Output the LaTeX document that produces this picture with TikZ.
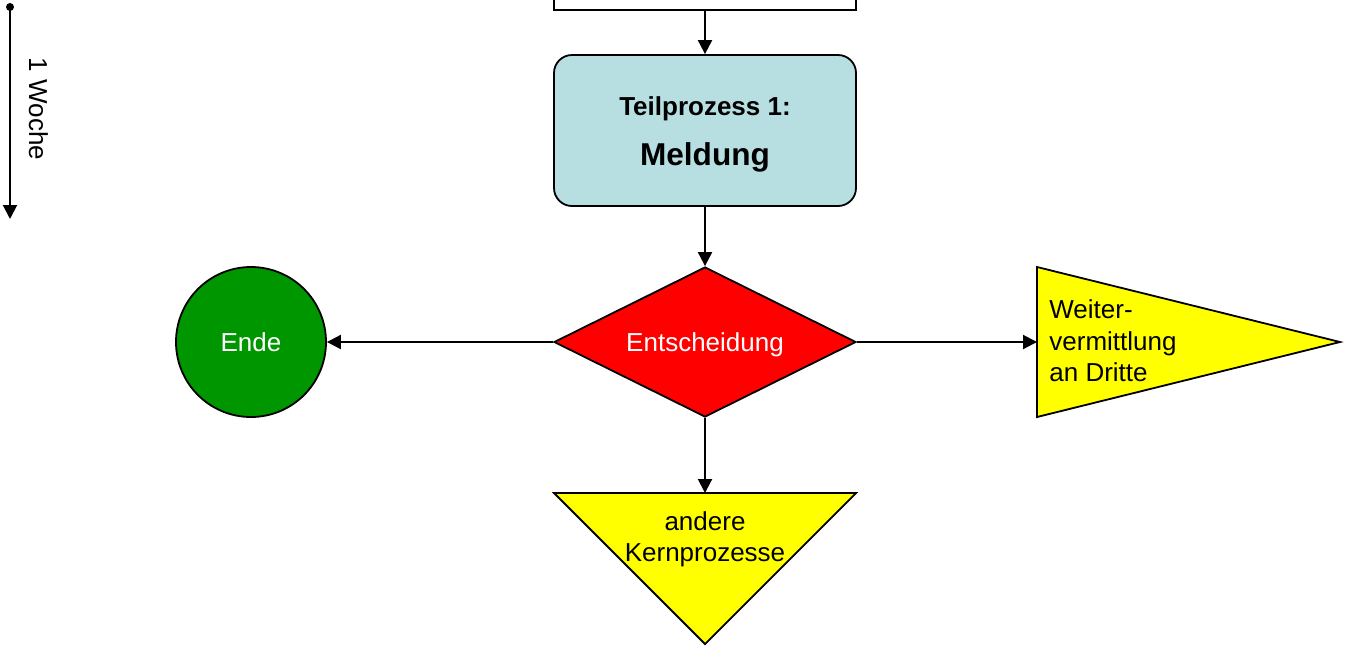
\documentclass[tikz,border=0pt]{standalone}
\usepackage{fontspec}
\setmainfont{Liberation Sans}
\usepackage{xcolor}
\usetikzlibrary{shapes.geometric,arrows.meta}
\definecolor{prozess}{HTML}{B7DFE2}
\definecolor{rot}{HTML}{FF0000}
\definecolor{gruen}{HTML}{009600}
\definecolor{gelb}{HTML}{FFFF00}
\tikzset{
  rand/.style={draw=black, line width=0.9pt},
  kasten/.style={rand, fill=white, minimum width=151pt, minimum height=75.5pt, inner sep=0pt},
  proz/.style={kasten, fill=prozess, rounded corners=9pt},
  entsch/.style={diamond, aspect=2, rand, fill=rot, text=white, minimum width=151pt, minimum height=75pt, inner sep=0pt, text depth=0pt},
  ende/.style={circle, rand, fill=gruen, text=white, minimum size=75pt, inner sep=0pt, text depth=0pt},
  ziel/.style={rand, fill=gelb, line join=miter},
  pfeil/.style={draw=black, line width=1pt, -{Triangle[length=7pt,width=7pt]}},
  txt/.style={font=\fontsize{13}{15.85}\selectfont}
}

\begin{document}
\begin{tikzpicture}[x=0.5pt, y=-0.5pt, every node/.style={txt}]
  \useasboundingbox (0,0) rectangle (1352,649);
  \clip (0,0) rectangle (1352,649);
  % Zeitachse
  \coordinate (zeitA) at (10,7);
  \coordinate (zeitB) at (10,219);
  \fill (zeitA) circle (2pt);
  \draw[pfeil] (zeitA) -- (zeitB);
  \node[rotate=-90, text depth=0pt] (woche) at (38.5,109) {1 Woche};
  % Knoten
  \node[kasten] (vorher) at (705,-65.5) {};
  \node[proz] (meldung) at (705,130.5) {};
  \node[anchor=base, font=\fontsize{13}{15.85}\selectfont\bfseries] (teil) at (705,115) {Teilprozess 1:};
  \node[anchor=base, font=\fontsize{15.8}{19}\selectfont\bfseries] (meldtxt) at (705,165) {Meldung};
  \node[entsch] (entsch) at (705,342) {Entscheidung};
  \node[ende] (ende) at (251,342) {Ende};
  % Dreiecke
  \coordinate (wv) at (1037,342);
  \coordinate (kp) at (705,493);
  \draw[ziel] (1037,267) -- (1340,342) -- (1037,417) -- cycle;
  \draw[ziel] (554,493) -- (856,493) -- (705,644) -- cycle;
  \node[anchor=base west, align=left, inner sep=0pt] (weiter) at (1049,381.7) {Weiter-\\vermittlung\\an Dritte};
  \node[anchor=base, align=center, inner sep=0pt] (kern) at (705,561.7) {andere\\Kernprozesse};
  % Pfeile
  \draw[pfeil] (vorher) -- (meldung);
  \draw[pfeil] (meldung) -- (entsch);
  \draw[pfeil] (entsch) -- (ende);
  \draw[pfeil] (entsch) -- (wv);
  \draw[pfeil] (entsch) -- (kp);
\end{tikzpicture}
\end{document}
